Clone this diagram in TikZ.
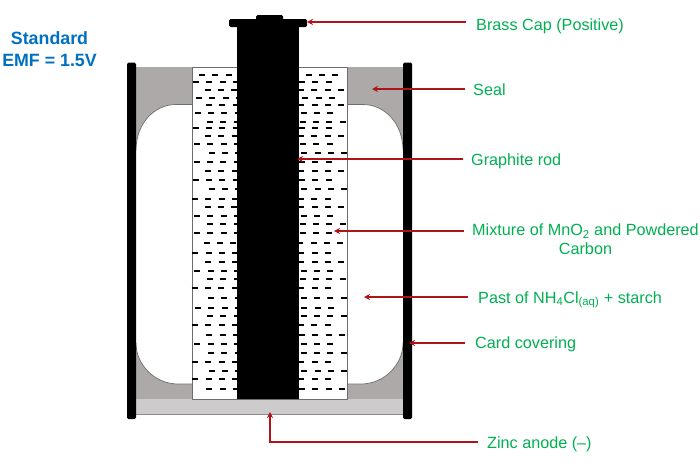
\documentclass[tikz,border=0pt]{standalone}
\usepackage{fontspec}
\setmainfont{Liberation Sans}
\definecolor{sealgray}{HTML}{ADA9A9}
\definecolor{zincgray}{HTML}{CDCBCB}
\definecolor{edgegray}{HTML}{6E6C6C}
\definecolor{arrowred}{HTML}{B01318}
\definecolor{labelgreen}{HTML}{00B050}
\definecolor{titleblue}{HTML}{0070C0}
\usetikzlibrary{arrows.meta}
\tikzset{
  redarrow/.style={draw=arrowred,line width=1.7pt,-{Stealth[length=6pt,width=6pt]}},
  label text/.style={text=labelgreen,font=\fontsize{16.2}{19}\selectfont,inner sep=0pt,anchor=west},
  title text/.style={text=titleblue,font=\fontsize{17.8}{22}\bfseries\selectfont,align=center,inner sep=0pt},
  blackpart/.style={fill=black,draw=none},
  dashmark/.style={line width=1.8pt,black},
}
\begin{document}
\begin{tikzpicture}[x=1pt,y=-1pt]
\useasboundingbox (0,0) rectangle (700,461);
% seal
\fill[sealgray] (136,67) rectangle (403,399);
% cavities
\path[fill=white] (136,150) .. controls (136,124) and (154,104.5) .. (176,104.5) -- (192,104.5) -- (192,384) -- (178,384) .. controls (155,384) and (136,365) .. (136,343) -- cycle;
\path[fill=white] (403,150) .. controls (403,124) and (385,104.5) .. (363,104.5) -- (347,104.5) -- (347,384) -- (361,384) .. controls (384,384) and (403,365) .. (403,343) -- cycle;
\draw[edgegray,line width=.7pt] (136,150) .. controls (136,124) and (154,104.5) .. (176,104.5) -- (192,104.5);
\draw[edgegray,line width=.7pt] (192,384) -- (178,384) .. controls (155,384) and (136,365) .. (136,343);
\draw[edgegray,line width=.7pt] (403,150) .. controls (403,124) and (385,104.5) .. (363,104.5) -- (347,104.5);
\draw[edgegray,line width=.7pt] (347,384) -- (361,384) .. controls (384,384) and (403,365) .. (403,343);
% zinc
\draw[fill=zincgray,draw=none] (136,399) rectangle (403,414.5);
\draw[edgegray!80,line width=.7pt] (136,414.5) -- (403,414.5);
% paste box
\draw[fill=white,draw=edgegray,line width=.9pt] (192,67) rectangle (347,399);
% dashes, left
\foreach \y/\s in {75/202,82/196,90/207.7,98/199,105/209,113/197.7,122/210,128/195.7,136/208,144/197,153/211.7,162/196.7,171/208,180/195.7,189/211.7,199/195,207/207.7,216/197,224/210,233/197,243/206.7,253/195.3,262/208.3,271/197.3,279/210,288/194.7,298/211,308/198,316/210,325/195,335/209.3,344/197.3,353/211,362/195,371/211.7,379/195.3,389/209.3}
  \foreach \k in {0,1,2,3}
    \draw[dashmark] ({\s+13.3*\k-3},\y) -- ({\s+13.3*\k+3},\y);
% dashes, right
\foreach \y/\s/\n in {75/308.7/2,82/302/2,90/301/3,98/305.3/2,105/301.3/3,113/303.7/2,122/302.7/3,128/302/2,136/301/3,144/303/2,153/304.3/3,162/302/2,171/301.3/3,180/302/2,189/304.3/3,199/301/2,207/301.3/3,216/303.7/2,224/302.7/3,233/302.7/2,243/300.3/3,253/301.3/2,262/301.3/3,271/303.7/2,279/302.7/3,288/301.3/2,298/303.7/3,308/304.3/2,316/303.7/3,325/301/2,335/302/3,344/303.7/2,353/303.7/3,362/301.3/2,371/304.3/3,379/301.3/2,389/302/3}
  \foreach \k in {0,...,\n}
    \draw[dashmark] ({\s+13.3*\k-3},\y) -- ({\s+13.3*\k+3},\y);
% rod and cap
\fill[blackpart] (237,25) rectangle (299,399);
\fill[blackpart,rounded corners=1.5pt] (229,19) rectangle (307,27);
\fill[blackpart,rounded corners=1.5pt] (256,15) rectangle (283,22);
% can walls
\fill[blackpart,rounded corners=1.5pt] (127,62.5) rectangle (136,419);
\fill[blackpart,rounded corners=1.5pt] (403,62.5) rectangle (412,419);
% titles
\node[title text] (title) at (49.5,49.5) {Standard\\EMF = 1.5V};
% labels
\node[label text] (brass) at (476,26) {Brass Cap (Positive)};
\node[label text] (seal) at (473,90) {Seal};
\node[label text] (rod) at (471,161) {Graphite rod};
\node[label text,align=center] (mix) at (472,239.5) {Mixture of MnO\textsubscript{2} and Powdered\\Carbon};
\node[label text] (past) at (478,300) {Past of NH\textsubscript{4}Cl\textsubscript{(aq)} + starch};
\node[label text] (card) at (475,344) {Card covering};
\node[label text] (zinc) at (487,444) {Zinc anode (–)};
% connector ends
\coordinate (brassT) at (466,22);  \coordinate (brassH) at (307,22);
\coordinate (sealT) at (465,89);   \coordinate (sealH) at (372,89);
\coordinate (rodT) at (463,159);   \coordinate (rodH) at (297,159);
\coordinate (mixT) at (464,231); \coordinate (mixH) at (334,231);
\coordinate (pastT) at (468,297);  \coordinate (pastH) at (364,297);
\coordinate (cardT) at (465,343);  \coordinate (cardH) at (409,343);
\coordinate (zincT) at (478,442);  \coordinate (zincB) at (270,442); \coordinate (zincH) at (270,412);
\draw[redarrow] (brassT) -- (brassH);
\draw[redarrow] (sealT) -- (sealH);
\draw[redarrow] (rodT) -- (rodH);
\draw[redarrow] (mixT) -- (mixH);
\draw[redarrow] (pastT) -- (pastH);
\draw[redarrow] (cardT) -- (cardH);
\draw[redarrow] (zincT) -- (zincB) -- (zincH);
\end{tikzpicture}
\end{document}
